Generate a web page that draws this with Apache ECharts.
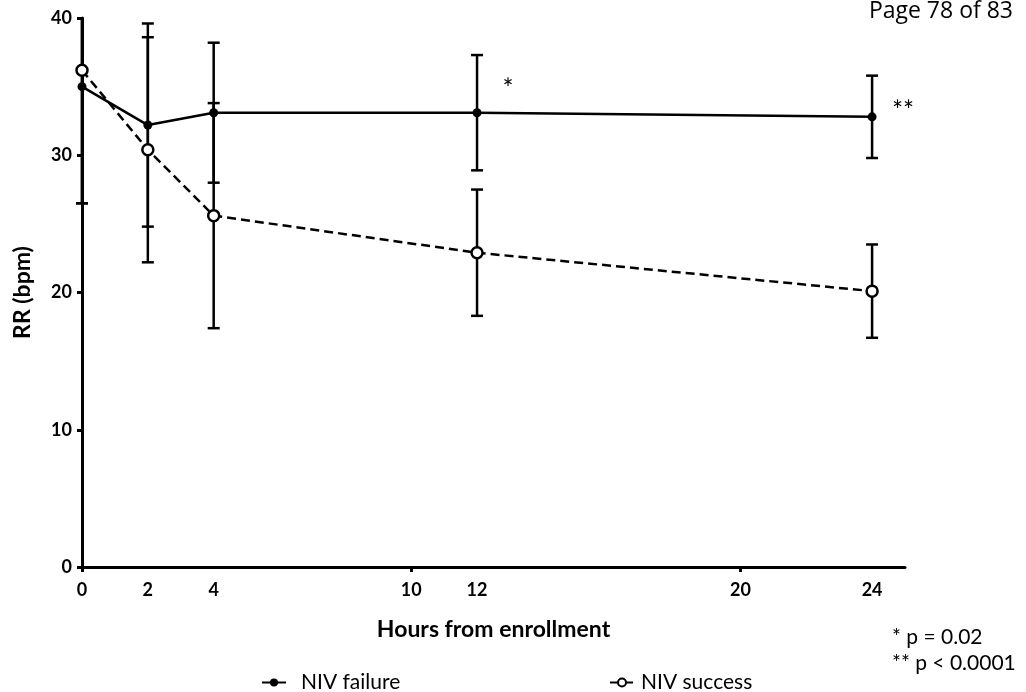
<!DOCTYPE html>
<html lang="en">
<head>
    <meta charset="UTF-8">
    <title>RR over time</title>
    <script src="https://cdn.jsdelivr.net/npm/echarts@6/dist/echarts.min.js"></script>
</head>
<body style="margin:0">
<div id="main" style="width:1026px;height:692px;"></div>
</body>
<script>
    // hours after enrollment
    var hours = [0, 2, 4, 12, 24];
    var xLabels = [0, 2, 4, 10, 12, 20, 24];
    var xTicks = [0, 10, 20];

    // NIV failure (mean, sd)
    var failureMean = [35.0, 32.2, 33.1, 33.1, 32.8];
    var failureSD = [8.5, 7.4, 5.1, 4.2, 3.0];

    // NIV success (mean, sd)
    var successMean = [36.2, 30.4, 25.6, 22.9, 20.1];
    var successSD = [9.7, 8.2, 8.2, 4.6, 3.4];

    // significance marks
    var failureMarks = ['', '', '', '*', '**'];

    var yMax = 40;
    var font = 'Lato';

    var pairs = function (mean) {
        var res = [];
        for (var i = 0; i < hours.length; i++) {
            res.push([hours[i], mean[i]]);
        }
        return res;
    };

    var errData = function (mean, sd) {
        var res = [];
        for (var i = 0; i < hours.length; i++) {
            res.push([hours[i], mean[i] - sd[i], mean[i] + sd[i]]);
        }
        return res;
    };

    var renderErr = function (params, api) {
        var x = api.value(0);
        var lo = api.coord([x, Math.max(api.value(1), 0)]);
        var hiVal = api.value(2);
        var hi = api.coord([x, Math.min(hiVal, yMax)]);
        var st = {stroke: '#000', lineWidth: 2.5};
        var children = [
            {type: 'line', shape: {x1: lo[0], y1: lo[1], x2: hi[0], y2: hi[1]}, style: st},
            {type: 'line', shape: {x1: lo[0] - 6, y1: lo[1], x2: lo[0] + 6, y2: lo[1]}, style: st}
        ];
        if (hiVal <= yMax) {
            children.push({type: 'line', shape: {x1: hi[0] - 6, y1: hi[1], x2: hi[0] + 6, y2: hi[1]}, style: st});
        }
        return {type: 'group', children: children};
    };

    var failData = pairs(failureMean).map(function (d, i) {
        if (!failureMarks[i]) return d;
        var off = failureMarks[i] === '*' ? [31, -23] : [31, -5];
        return {
            value: d,
            label: {
                show: true,
                formatter: failureMarks[i],
                position: 'inside',
                offset: off,
                color: '#000',
                fontFamily: font,
                fontSize: 26
            }
        };
    });

    var myChart = echarts.init(document.getElementById('main'));

    var option = {
        backgroundColor: '#fff',
        animation: false,
        grid: {left: 82, right: 121, top: 18, bottom: 125},
        xAxis: {
            type: 'value',
            min: 0,
            max: 25,
            interval: 1,
            name: 'Hours from enrollment',
            nameLocation: 'middle',
            nameGap: 51,
            nameTextStyle: {color: '#000', fontFamily: font, fontWeight: 'bold', fontSize: 23},
            splitLine: {show: false},
            axisLine: {lineStyle: {color: '#000', width: 3}},
            axisTick: {show: true, customValues: xTicks, length: 5, lineStyle: {color: '#000', width: 3}},
            axisLabel: {
                customValues: xLabels,
                color: '#000',
                fontFamily: font,
                fontWeight: 'bold',
                fontSize: 18,
                margin: 14
            }
        },
        yAxis: {
            type: 'value',
            min: 0,
            max: 40,
            interval: 10,
            name: 'RR (bpm)',
            nameLocation: 'middle',
            nameGap: 48,
            nameTextStyle: {color: '#000', fontFamily: font, fontWeight: 'bold', fontSize: 23},
            splitLine: {show: false},
            axisLine: {show: true, lineStyle: {color: '#000', width: 3}},
            axisTick: {show: true, length: 5, lineStyle: {color: '#000', width: 3}},
            axisLabel: {color: '#000', fontFamily: font, fontWeight: 'bold', fontSize: 18, margin: 10}
        },
        legend: [{
            left: 256,
            top: 667,
            itemWidth: 24,
            itemHeight: 10,
            data: ['NIV failure'],
            textStyle: {color: '#000', fontFamily: font, fontSize: 21, padding: [0, 0, 0, 10]}
        }, {
            left: 604,
            top: 667,
            itemWidth: 24,
            itemHeight: 10,
            data: ['NIV success'],
            textStyle: {color: '#000', fontFamily: font, fontSize: 21, padding: [0, 0, 0, 2]}
        }],
        graphic: [{
            type: 'text',
            right: 13,
            top: 0,
            style: {text: 'Page 78 of 83', fill: '#000', font: '23px "Open Sans"'}
        }, {
            type: 'text',
            left: 892,
            top: 624,
            style: {text: '* p = 0.02\n** p < 0.0001', fill: '#000', font: '21px Lato', lineHeight: 26}
        }],
        series: [{
            type: 'custom',
            name: 'err-fail',
            data: errData(failureMean, failureSD),
            renderItem: renderErr,
            z: 1,
            silent: true
        }, {
            type: 'custom',
            name: 'err-succ',
            data: errData(successMean, successSD),
            renderItem: renderErr,
            z: 1,
            silent: true
        }, {
            name: 'NIV failure',
            type: 'line',
            data: failData,
            symbol: 'circle',
            symbolSize: 9,
            itemStyle: {color: '#000'},
            lineStyle: {color: '#000', width: 2.5},
            z: 3
        }, {
            name: 'NIV success',
            type: 'line',
            data: pairs(successMean),
            symbol: 'circle',
            symbolSize: 11,
            itemStyle: {color: '#fff', borderColor: '#000', borderWidth: 2.5},
            lineStyle: {color: '#000', width: 2.5, type: [9, 5]},
            z: 4
        }]
    };

    myChart.setOption(option);
</script>
</html>
